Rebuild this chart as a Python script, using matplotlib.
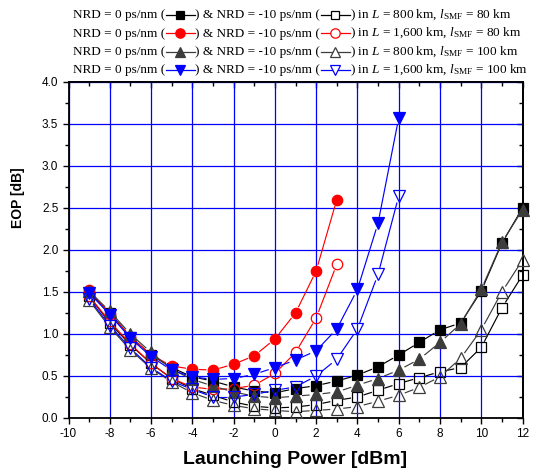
import numpy as np
import matplotlib
matplotlib.use("Agg")
import matplotlib.pyplot as plt
from matplotlib import ticker
from matplotlib.lines import Line2D
from matplotlib.collections import LineCollection

plt.rcParams.update(
    {
        "font.family": "Liberation Sans",
        "axes.unicode_minus": False,
        "mathtext.fontset": "custom",
        "mathtext.rm": "Liberation Serif",
        "mathtext.it": "Liberation Serif:italic",
        "mathtext.bf": "Liberation Serif:bold",
    }
)

# %% datos: EOP [dB] vs potencia de lanzamiento [dBm]
p_all = np.arange(-9, 13)      # L = 800 km
p_1600_80 = np.arange(-9, 4)   # L = 1600 km, l_SMF = 80 km
p_1600_100 = np.arange(-9, 7)  # L = 1600 km, l_SMF = 100 km

eop_800_80_nrd0 = [1.50, 1.25, 0.97, 0.75, 0.60, 0.49, 0.44, 0.37, 0.32, 0.30, 0.35,
                   0.385, 0.44, 0.51, 0.61, 0.75, 0.90, 1.05, 1.13, 1.51, 2.08, 2.50]
eop_800_80_nrd10 = [1.45, 1.13, 0.87, 0.65, 0.47, 0.35, 0.27, 0.19, 0.14, 0.12, 0.13,
                    0.16, 0.21, 0.25, 0.33, 0.41, 0.48, 0.55, 0.60, 0.84, 1.31, 1.70]
eop_1600_80_nrd0 = [1.52, 1.24, 0.97, 0.75, 0.62, 0.58, 0.57, 0.64, 0.74, 0.94, 1.25,
                    1.75, 2.60]
eop_1600_80_nrd10 = [1.45, 1.15, 0.88, 0.65, 0.47, 0.37, 0.34, 0.35, 0.39, 0.53, 0.78,
                     1.19, 1.83]
eop_800_100_nrd0 = [1.51, 1.27, 1.00, 0.78, 0.58, 0.46, 0.38, 0.31, 0.26, 0.24, 0.26,
                    0.28, 0.31, 0.39, 0.47, 0.57, 0.70, 0.90, 1.12, 1.53, 2.09, 2.48]
eop_800_100_nrd10 = [1.40, 1.08, 0.81, 0.59, 0.43, 0.30, 0.21, 0.15, 0.11, 0.09, 0.075,
                     0.09, 0.107, 0.135, 0.20, 0.27, 0.365, 0.49, 0.71, 1.05, 1.50, 1.88]
eop_1600_100_nrd0 = [1.49, 1.23, 0.95, 0.73, 0.57, 0.49, 0.46, 0.47, 0.52, 0.60, 0.69,
                     0.80, 1.06, 1.53, 2.32, 3.57]
eop_1600_100_nrd10 = [1.42, 1.10, 0.83, 0.60, 0.44, 0.34, 0.25, 0.25, 0.28, 0.33, 0.37,
                      0.50, 0.70, 1.06, 1.71, 2.64]

casos = ["$L$ = 800 km, $l_{\\mathrm{SMF}}$ = 80 km",
         "$L$ = 1,600 km, $l_{\\mathrm{SMF}}$ = 80 km",
         "$L$ = 800 km, $l_{\\mathrm{SMF}}$ = 100 km",
         "$L$ = 1,600 km, $l_{\\mathrm{SMF}}$ = 100 km"]

negro, rojo, gris, azul = "#000000", "#ff0000", "#3c3c3c", "#0000ff"
# (x, y, color, marker, relleno, tamaño)
series = [
    (p_all, eop_800_80_nrd0, negro, "s", True, 7),
    (p_all, eop_800_80_nrd10, negro, "s", False, 7),
    (p_1600_80, eop_1600_80_nrd0, rojo, "o", True, 7.5),
    (p_1600_80, eop_1600_80_nrd10, rojo, "o", False, 7.5),
    (p_all, eop_800_100_nrd0, gris, "^", True, 8),
    (p_all, eop_800_100_nrd10, gris, "^", False, 8),
    (p_1600_100, eop_1600_100_nrd0, azul, "v", True, 8),
    (p_1600_100, eop_1600_100_nrd10, azul, "v", False, 8),
]

W, H = 536, 476
fig = plt.figure(figsize=(W / 100, H / 100), dpi=100)
ax = fig.add_axes([68.5 / W, 58 / H, 454 / W, 336 / H])
ax.set_xlim(-10, 12)
ax.set_ylim(0, 4)

ax.xaxis.set_major_locator(ticker.MultipleLocator(2))
ax.xaxis.set_minor_locator(ticker.MultipleLocator(1))
ax.yaxis.set_major_locator(ticker.MultipleLocator(0.5))
ax.yaxis.set_minor_locator(ticker.MultipleLocator(0.25))
ax.yaxis.set_major_formatter(ticker.FormatStrFormatter("%.1f"))
ax.grid(True, which="major", color="#0000ff", linewidth=0.9, zorder=0)
ax.set_axisbelow(True)
ax.tick_params(which="both", direction="out", labelsize=8.5, width=1, pad=3)
ax.tick_params(which="major", length=4.3)
ax.tick_params(which="minor", length=2.9)
for s in ax.spines.values():
    s.set_linewidth(1.3)

# ejes de arriba y derecha con ticks hacia adentro, sin etiquetas
sec_x = ax.secondary_xaxis("top")
sec_x.xaxis.set_major_locator(ticker.MultipleLocator(2))
sec_x.xaxis.set_minor_locator(ticker.MultipleLocator(1))
sec_x.tick_params(which="both", direction="in", labeltop=False, width=1)
sec_x.tick_params(which="major", length=4.3)
sec_x.tick_params(which="minor", length=2.9)
sec_y = ax.secondary_yaxis("right")
sec_y.yaxis.set_major_locator(ticker.MultipleLocator(0.5))
sec_y.yaxis.set_minor_locator(ticker.MultipleLocator(0.25))
sec_y.tick_params(which="both", direction="in", labelright=False, width=1)
sec_y.tick_params(which="major", length=4.3)
sec_y.tick_params(which="minor", length=2.9)
for s in list(sec_x.spines.values()) + list(sec_y.spines.values()):
    s.set_linewidth(1.3)

ax.set_xlabel("Launching Power [dBm]", fontsize=14, fontweight="bold", labelpad=8)
ax.set_ylabel("EOP [dB]", fontsize=10, fontweight="bold")
ax.yaxis.set_label_coords(-0.096, 0.655)


def linea_con_hueco(ax, x, y, color, gap, z):
    # segmentos recortados en pixeles para dejar un hueco alrededor de cada simbolo
    pts = ax.transData.transform(np.column_stack([x, y]))
    inv = ax.transData.inverted()
    segs = []
    for p, q in zip(pts[:-1], pts[1:]):
        d = q - p
        n = np.hypot(*d)
        if n <= 2 * gap:
            continue
        u = d / n
        segs.append(inv.transform(np.array([p + u * gap, q - u * gap])))
    ax.add_collection(LineCollection(segs, colors=color, linewidths=0.85, zorder=z))


for i, (x, y, c, m, lleno, ms) in enumerate(series):
    z = 3 + i
    linea_con_hueco(ax, x, y, c, gap=6.5, z=z)
    ax.plot(x, y, linestyle="none", marker=m, markersize=ms,
            markerfacecolor=c if lleno else "none", markeredgecolor=c,
            markeredgewidth=0.9, zorder=z + 0.5, clip_on=False)

# encabezado con simbolos en linea
renderer = fig.canvas.get_renderer()
fs_head = 9.5


def texto(xp, yp, s):
    t = fig.text(xp / W, 1 - yp / H, s, fontsize=fs_head, family="Liberation Serif",
                 ha="left", va="baseline")
    return xp + t.get_window_extent(renderer).width


def simbolo(xp, yp, c, m, lleno, ms, ancho=30):
    yc = 1 - (yp - 3.2) / H
    fig.add_artist(Line2D([(xp + 0.5) / W, (xp + ancho - 0.5) / W], [yc, yc],
                          color=c, linewidth=0.9, transform=fig.transFigure))
    fig.add_artist(Line2D([(xp + ancho / 2) / W], [yc], linestyle="none", marker=m,
                          markersize=ms * 0.9, markerfacecolor=c if lleno else "white",
                          markeredgecolor=c, markeredgewidth=0.9,
                          transform=fig.transFigure))
    return xp + ancho


y_base = [18.3, 36.6, 55.0, 73.3]
for k, caso in enumerate(casos):
    yb = y_base[k]
    s0, s1 = series[2 * k], series[2 * k + 1]
    xp = texto(73, yb, "NRD = 0 ps/nm (")
    xp = simbolo(xp, yb, s0[2], s0[3], True, s0[5])
    xp = texto(xp, yb, ") & NRD = -10 ps/nm (")
    xp = simbolo(xp, yb, s1[2], s1[3], False, s1[5])
    texto(xp, yb, ") in " + caso)

fig.savefig("out.png", dpi=100)
